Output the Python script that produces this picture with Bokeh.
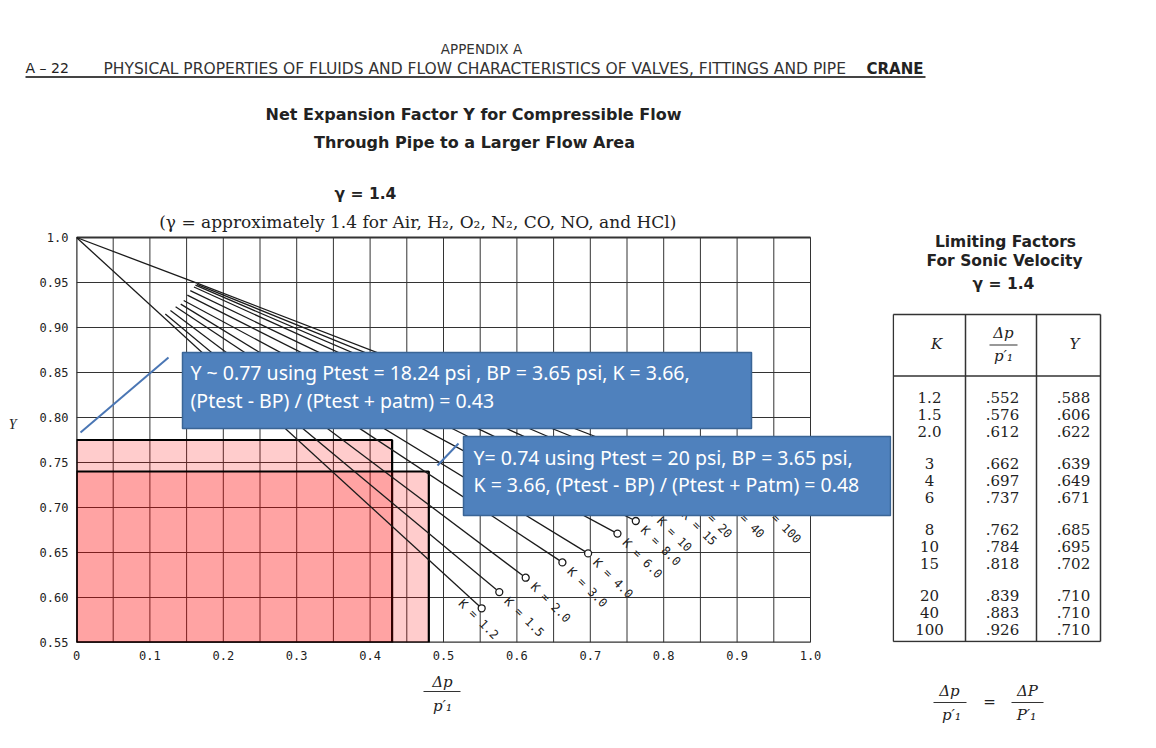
import math
import numpy as np
from bokeh.plotting import figure
from bokeh.layouts import column, row
from bokeh.models import Range1d, FixedTicker
from bokeh.core.properties import value
from bokeh.embed import file_html
from bokeh.resources import INLINE

# ---------------- data ----------------
k_values = [1.2, 1.5, 2.0, 3, 4, 6, 8, 10, 15, 20, 40, 100]
k_table_labels = ["1.2", "1.5", "2.0", "3", "4", "6", "8", "10", "15", "20", "40", "100"]
limit_dp = [0.552, 0.576, 0.612, 0.662, 0.697, 0.737, 0.762, 0.784, 0.818, 0.839, 0.883, 0.926]
limit_y = [0.588, 0.606, 0.622, 0.639, 0.649, 0.671, 0.685, 0.695, 0.702, 0.710, 0.710, 0.710]
# where each drawn curve begins
curve_start_dp = [0.0, 0.121, 0.128, 0.135, 0.142, 0.146, 0.151, 0.155, 0.160, 0.162, 0.164, 0.165]
curve_start_y = [1.0, 0.915, 0.919, 0.923, 0.926, 0.930, 0.936, 0.941, 0.945, 0.947, 0.948, 0.949]
# common upper envelope from the origin
envelope_dp = [0.0, 0.165]
envelope_y = [1.0, 0.949]
# the two worked cases (shaded rectangles)
case_dp = [0.43, 0.48]
case_y = [0.775, 0.74]

x_ticks = [0.0, 0.1, 0.2, 0.3, 0.4, 0.5, 0.6, 0.7, 0.8, 0.9, 1.0]
x_tick_labels = ["0", "0.1", "0.2", "0.3", "0.4", "0.5", "0.6", "0.7", "0.8", "0.9", "1.0"]
y_ticks = [0.55, 0.6, 0.65, 0.7, 0.75, 0.8, 0.85, 0.9, 0.95, 1.0]
y_tick_labels = ["0.55", "0.60", "0.65", "0.70", "0.75", "0.80", "0.85", "0.90", "0.95", "1.0"]

box1_lines = ["Y ~ 0.77 using Ptest = 18.24 psi , BP = 3.65 psi, K = 3.66,",
              "(Ptest - BP) / (Ptest + patm) =  0.43"]
box2_lines = ["Y= 0.74 using Ptest = 20 psi, BP = 3.65 psi,",
              "K = 3.66, (Ptest - BP) / (Ptest + Patm) = 0.48"]

# ---------------- layout constants (page pixels) ----------------
X0_PX, PX_PER_X = 76, 734
Y1_PX, PX_PER_Y = 237, 900


def dx(px):
    return (px - X0_PX) / PX_PER_X


def dy(py):
    return 1.0 - (py - Y1_PX) / PX_PER_Y


SANS = "DejaVu Sans"
SERIF = "DejaVu Serif"
MONO = "DejaVu Sans Mono"
INK = "#1a1a1a"
TXT = "#222222"

TOP_H = 205                 # header strip: page y 0..205
FRAME_BOTTOM = 642
MID_BOTTOM = 26             # x tick labels
MID_H = FRAME_BOTTOM - TOP_H + MID_BOTTOM   # 463
BOT_Y0 = TOP_H + MID_H      # 668
BOT_H = 748 - BOT_Y0        # 80
SPLIT_X = 892


def blank_fig(w, h, xr, yr, **kw):
    f = figure(width=w, height=h, x_range=Range1d(*xr), y_range=Range1d(*yr), title=None,
               x_axis_location=None, y_axis_location=None, toolbar_location=None,
               output_backend="svg", **kw)
    f.outline_line_color = None
    f.xgrid.visible = False
    f.ygrid.visible = False
    return f


# ---------------- header figure (page coordinates) ----------------
ft = blank_fig(1156, TOP_H, (0, 1156), (TOP_H, 0), min_border=0)
ft.text(x=[481], y=[48], text=["APPENDIX A"], text_font=value(SANS), text_font_size="13.5px",
        text_align="center", text_baseline="middle", text_color="#333333")
ft.text(x=[25], y=[67], text=["A – 22"], text_font=value(SANS), text_font_size="14px",
        text_align="left", text_baseline="middle", text_color=TXT)
ft.text(x=[103], y=[68],
        text=["PHYSICAL PROPERTIES OF FLUIDS AND FLOW CHARACTERISTICS OF VALVES, FITTINGS AND PIPE"],
        text_font=value(SANS), text_font_size="15.5px", text_align="left",
        text_baseline="middle", text_color="#333333")
ft.text(x=[866], y=[68], text=["CRANE"], text_font=value(SANS), text_font_size="15px",
        text_font_style="bold", text_align="left", text_baseline="middle", text_color=TXT)
ft.segment(x0=[25], y0=[76.5], x1=[925], y1=[76.5], line_color="#444444", line_width=2)
ft.text(x=[473, 474], y=[114, 142],
        text=["Net Expansion Factor Y for Compressible Flow", "Through Pipe to a Larger Flow Area"],
        text_font=value(SANS), text_font_size="16px", text_font_style="bold",
        text_align="center", text_baseline="middle", text_color=TXT)
ft.text(x=[365], y=[193], text=["γ = 1.4"], text_font=value(SANS), text_font_size="15.5px",
        text_font_style="bold", text_align="center", text_baseline="middle", text_color=TXT)

# ---------------- chart figure ----------------
fb = figure(width=SPLIT_X, height=MID_H, x_range=Range1d(0, dx(891)),
            y_range=Range1d(0.55, dy(TOP_H)), title=None,
            toolbar_location=None, output_backend="svg",
            min_border_left=76, min_border_right=1, min_border_top=0,
            min_border_bottom=MID_BOTTOM)
fb.outline_line_color = None
fb.xgrid.visible = False
fb.ygrid.visible = False

fb.xaxis.ticker = FixedTicker(ticks=x_ticks)
fb.xaxis.major_label_overrides = dict(zip(x_ticks, x_tick_labels))
fb.yaxis.ticker = FixedTicker(ticks=y_ticks)
fb.yaxis.major_label_overrides = dict(zip(y_ticks, y_tick_labels))
fb.yaxis.bounds = (0.55, 1.0)
for ax in (fb.xaxis[0], fb.yaxis[0]):
    ax.axis_line_color = None
    ax.major_tick_line_color = None
    ax.minor_tick_line_color = None
    ax.major_tick_out = 0
    ax.major_tick_in = 0
    ax.major_label_text_font = MONO
    ax.major_label_text_font_size = "12px"
    ax.major_label_text_color = TXT
    ax.major_label_standoff = 8
fb.yaxis.axis_label = "Y"
fb.yaxis.axis_label_orientation = "horizontal"
fb.yaxis.axis_label_standoff = 20
fb.yaxis.axis_label_text_font = "Liberation Serif"
fb.yaxis.axis_label_text_font_style = "italic"
fb.yaxis.axis_label_text_font_size = "14px"
fb.yaxis.axis_label_text_baseline = "top"
fb.yaxis.axis_label_text_color = TXT

# subtitle above the grid
fb.text(x=[dx(420)], y=[dy(221)],
        text=["(γ = approximately  1.4 for Air, H₂, O₂, N₂, CO, NO, and HCl)"],
        text_font=value(SERIF), text_font_size="17px", text_align="center",
        text_baseline="middle", text_color=TXT)

# grid lines every 0.05
vx = np.round(np.arange(0, 1.0001, 0.05), 2)
hy = np.round(np.arange(0.55, 1.0001, 0.05), 2)
fb.segment(x0=vx, y0=0.55, x1=vx, y1=1.0, line_color="#333333", line_width=1)
fb.segment(x0=0, y0=hy, x1=1.0, y1=hy, line_color="#333333", line_width=1)
fb.segment(x0=[0, 0, 0], y0=[0.55, 0.55, 1.0], x1=[0, 1.0, 1.0], y1=[1.0, 0.55, 1.0],
           line_color="#333333", line_width=2)

# shaded cases
fb.quad(left=[0, 0], right=case_dp, bottom=[0.55, 0.55], top=case_y,
        fill_color="#ff0000", fill_alpha=0.2, line_color="black", line_width=2.2)

# curves
xs = [[s, e] for s, e in zip(curve_start_dp, limit_dp)]
ys = [[s, e] for s, e in zip(curve_start_y, limit_y)]
fb.multi_line(xs, ys, line_color=INK, line_width=1.3)
fb.line(envelope_dp, envelope_y, line_color=INK, line_width=1.3)
fb.scatter(limit_dp, limit_y, marker="circle", size=7, fill_color="white",
           line_color=INK, line_width=1.3)

curve_labels = [f"K = {k:.1f}" if k < 10 else f"K = {int(k)}" for k in k_values]
x_off = [-21 if k == 1.2 else 7 for k in k_values]
y_off = [-7 if k == 1.2 else 7 for k in k_values]
fb.text(x=limit_dp, y=limit_y, text=curve_labels, angle=-math.pi / 4,
        x_offset=x_off, y_offset=y_off, text_font=value(MONO), text_font_size="12px",
        text_align="left", text_baseline="middle", text_color=TXT)

# callouts and annotation boxes
fb.segment(x0=[dx(80), dx(437)], y0=[dy(432), dy(465)], x1=[dx(168), dx(458)],
           y1=[dy(357), dy(443)], line_color="#4a76b4", line_width=2)
fb.quad(left=[dx(182), dx(463)], right=[dx(751), dx(890)], top=[dy(352), dy(436)],
        bottom=[dy(428), dy(515)], fill_color="#4F81BD", line_color="#3A6596", line_width=1.5)
fb.text(x=[dx(190), dx(190), dx(473), dx(473)],
        y=[dy(372), dy(400), dy(457), dy(484)],
        text=box1_lines + box2_lines, text_color="white", text_font=value("Noto Sans"),
        text_font_size="19.5px", text_align="left", text_baseline="middle")

# ---------------- table figure (page coordinates, frame aligned with the chart) ----------------
fc = blank_fig(1156 - SPLIT_X, MID_H, (SPLIT_X, 1156), (FRAME_BOTTOM, TOP_H),
               min_border_left=0, min_border_right=0, min_border_top=0,
               min_border_bottom=MID_BOTTOM)
fc.text(x=[1005, 1004, 1003], y=[241, 260, 283],
        text=["Limiting Factors", "For Sonic Velocity", "γ = 1.4"],
        text_font=value(SANS), text_font_size="15.5px", text_font_style="bold",
        text_align="center", text_baseline="middle", text_color=TXT)
fc.segment(x0=[892.8, 1100, 892.8, 892.8, 965, 1036, 892.8],
           y0=[314, 314, 314, 641, 314, 314, 375.5],
           x1=[892.8, 1100, 1100, 1100, 965, 1036, 1100],
           y1=[641, 641, 314, 641, 641, 641, 375.5],
           line_color="#333333", line_width=1.5)
fc.text(x=[936, 1074], y=[343, 343], text=["K", "Y"], text_font=value(SERIF),
        text_font_style="italic", text_font_size="15px", text_align="center",
        text_baseline="middle", text_color=TXT)
fc.text(x=[1003, 1003], y=[332, 355], text=["Δp", "p′₁"], text_font=value(SERIF),
        text_font_style="italic", text_font_size="15px", text_align="center",
        text_baseline="middle", text_color=TXT)
fc.segment(x0=[989], y0=[344.5], x1=[1017], y1=[344.5], line_color="#333333", line_width=1.2)

row_y = [397 + 17 * i + 15 * (i // 3) for i in range(len(k_values))]
dp_txt = [f"{v:.3f}"[1:] for v in limit_dp]
y_txt = [f"{v:.3f}"[1:] for v in limit_y]
for cx, col_txt in ((929, k_table_labels), (1002, dp_txt), (1073, y_txt)):
    fc.text(x=[cx] * len(row_y), y=row_y, text=col_txt, text_font=value(SERIF),
            text_font_size="15px", text_align="center", text_baseline="middle", text_color=TXT)

# ---------------- bottom strip (page coordinates) ----------------
fd = blank_fig(1156, BOT_H, (0, 1156), (748, BOT_Y0), min_border=0)
fd.text(x=[442, 442, 949, 951, 989, 1027, 1026], y=[681, 705, 690, 714, 701, 690, 714],
        text=["Δp", "p′₁", "Δp", "p′₁", "=", "ΔP", "P′₁"], text_font=value(SERIF),
        text_font_style="italic", text_font_size="15px", text_align="center",
        text_baseline="middle", text_color=TXT)
fd.segment(x0=[423, 933, 1011], y0=[691, 702, 702], x1=[460, 966, 1043], y1=[691, 702, 702],
           line_color="#333333", line_width=1.2)

layout = column(ft, row(fb, fc), fd)
open("out.html", "w").write(file_html(layout, INLINE))
